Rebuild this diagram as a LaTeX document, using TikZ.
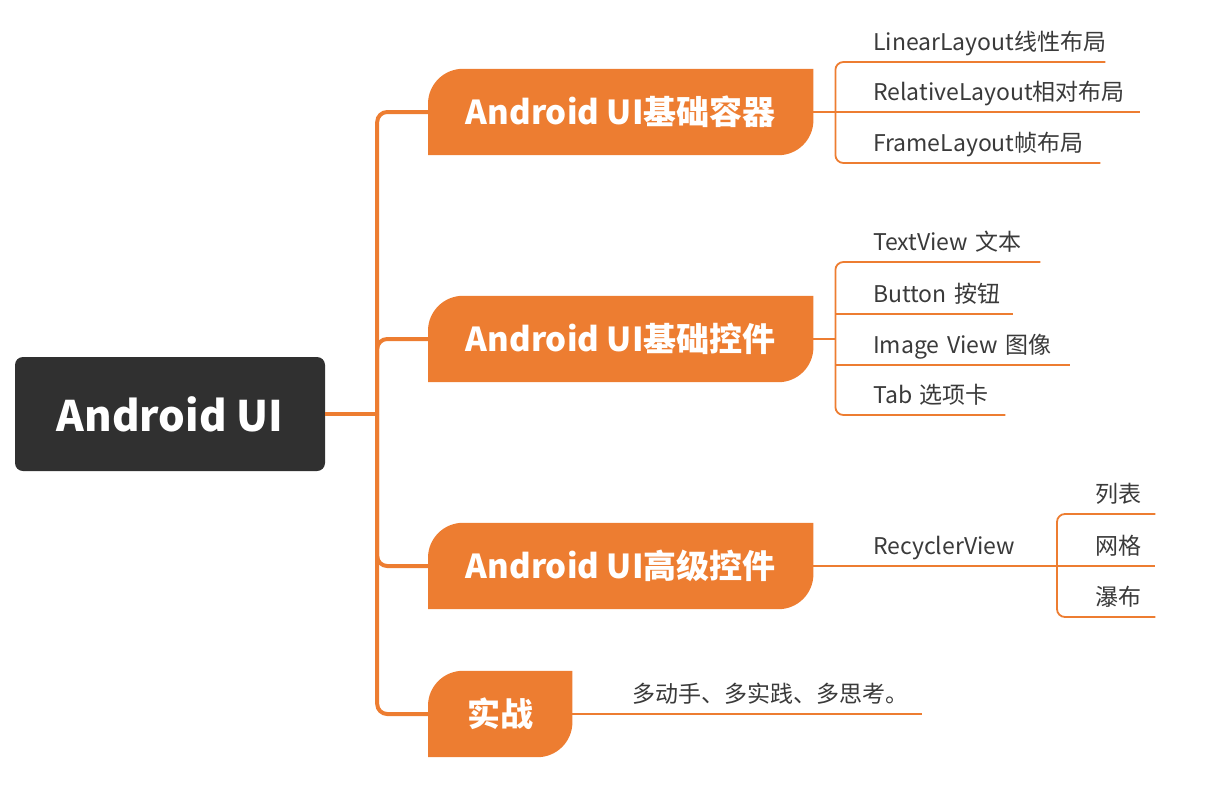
\documentclass[tikz,border=0pt]{standalone}
\usepackage{fontspec}
\setmainfont{Noto Sans CJK SC}
\usetikzlibrary{backgrounds}
\definecolor{mmorange}{HTML}{ED7D31}
\definecolor{rootgray}{HTML}{303030}
\definecolor{leafgray}{HTML}{3A3A3A}
% orange topic box: big round corners top left and bottom right
\newcommand{\branchbg}[1]{%
  \fill[mmorange] (#1.south west) -- ([yshift=-35pt]#1.north west)
    arc[start angle=180, end angle=90, radius=35pt] -- (#1.north east)
    -- ([yshift=35pt]#1.south east)
    arc[start angle=0, end angle=-90, radius=35pt] -- cycle;}

\begin{document}
\begin{tikzpicture}[x=1pt, y=-1pt,
  root/.style={fill=rootgray, rounded corners=8pt, text=white, minimum width=310pt, minimum height=114pt, font=\bfseries\fontsize{42}{42}\selectfont},
  branch/.style={anchor=west, text=white, minimum height=86pt, inner sep=0pt, font=\bfseries\fontsize{33}{33}\selectfont},
  leaf/.style={anchor=south west, text=leafgray, inner xsep=6pt, inner ysep=4pt, text height=18pt, text depth=7pt, align=left, font=\fontsize{23}{23}\selectfont},
  trunk/.style={draw=mmorange, line width=4pt, rounded corners=10pt},
  twig/.style={draw=mmorange, line width=1.8pt, rounded corners=8pt}]
\useasboundingbox (0,0) rectangle (1208,811);

\node[root] (root) at (170,414) {Android UI};

\node[branch, minimum width=385pt] (cont) at (428,112) {Android UI基础容器};
\node[branch, minimum width=385pt] (ctrl) at (428,339) {Android UI基础控件};
\node[branch, minimum width=385pt] (adv) at (428,566) {Android UI高级控件};
\node[branch, minimum width=144pt] (prac) at (428,714) {实战};
\begin{scope}[on background layer]
  \foreach \b in {cont,ctrl,adv,prac} \branchbg{\b};
\end{scope}

% leaves
\node[leaf, text width=226pt] (lin) at (867,62) {LinearLayout线性布局};
\node[leaf, text width=261pt] (rel) at (867,112) {RelativeLayout相对布局};
\node[leaf, text width=221pt] (frm) at (867,163) {FrameLayout帧布局};
\node[leaf, text width=161pt] (tv) at (867,262) {TextView 文本};
\node[leaf, text width=134pt] (btn) at (867,314) {Button 按钮};
\node[leaf, text width=191pt] (img) at (867,365) {Image View 图像};
\node[leaf, text width=126pt] (tab) at (867,415) {Tab 选项卡};
\node[leaf] (rv) at (867,566) {RecyclerView};
\node[leaf, text width=54pt] (lst) at (1089,514) {列表};
\node[leaf, text width=54pt] (grd) at (1089,566) {网格};
\node[leaf, text width=54pt] (wtf) at (1089,617) {瀑布};
\node[leaf, text width=284pt] (tip) at (626,714) {多动手、多实践、多思考。};

% trunk
\coordinate (hub) at ([xshift=52pt]root.east);
\draw[trunk] (root.east) -- (hub);
\foreach \b in {cont,ctrl,adv,prac} \draw[trunk] (hub) |- (\b.west);

% brackets
\coordinate (k1) at ([xshift=22pt]cont.east);
\draw[twig] (cont.east) -- (rel.south east);
\draw[twig] (lin.south east) -| (k1) |- (frm.south east);

\coordinate (k2) at ([xshift=22pt]ctrl.east);
\draw[twig] (ctrl.east) -- (k2);
\draw[twig] (tv.south east) -| (k2) |- (tab.south east);
\draw[twig] (btn.south west -| k2) -- (btn.south east);
\draw[twig] (img.south west -| k2) -- (img.south east);

\coordinate (k3) at (1057,566);
\draw[twig] (adv.east) -- (k3);
\draw[twig] (lst.south east) -| (k3) |- (wtf.south east);
\draw[twig] (k3) -- (grd.south east);

\draw[twig] (prac.east) -- (tip.south east);
\end{tikzpicture}
\end{document}
